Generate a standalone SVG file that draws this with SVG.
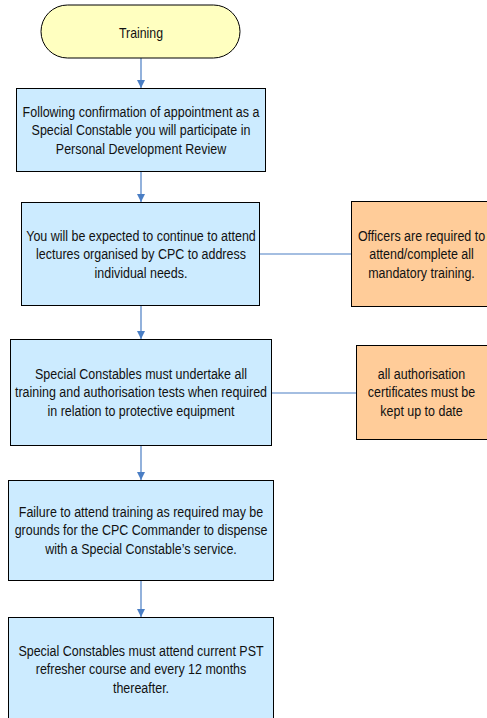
<svg xmlns="http://www.w3.org/2000/svg" width="487" height="718" viewBox="0 0 487 718">
<style>
.t{font-family:"Liberation Sans",Arial,sans-serif;font-size:14px;fill:#111;text-anchor:middle}
.blue{fill:#CCEBFF;stroke:#000;stroke-width:1}
.org{fill:#FFCC99;stroke:#000;stroke-width:1}
.c{stroke:#4A7EC4;stroke-width:1.2;fill:none}
</style>
<defs>
<marker id="ah" viewBox="0 0 8 10" refX="8" refY="5" markerWidth="8" markerHeight="10" markerUnits="userSpaceOnUse" orient="auto">
<path d="M0,1 L8,5 L0,9 Z" fill="#4A7EC4"/>
</marker>
</defs>
<rect width="487" height="718" fill="#fff"/>
<g id="connectors">
<line class="c" x1="141" y1="58" x2="141" y2="88" marker-end="url(#ah)"/>
<line class="c" x1="141" y1="172" x2="141" y2="202" marker-end="url(#ah)"/>
<line class="c" x1="141" y1="306" x2="141" y2="339" marker-end="url(#ah)"/>
<line class="c" x1="141" y1="446" x2="141" y2="480" marker-end="url(#ah)"/>
<line class="c" x1="141" y1="581" x2="141" y2="617" marker-end="url(#ah)"/>
<line class="c" x1="260" y1="254" x2="351" y2="254"/>
<line class="c" x1="271" y1="393" x2="356" y2="393"/>
</g>
<g id="n0">
<rect x="41" y="5" width="199" height="53" rx="26.5" ry="26.5" fill="#FFFFC0" stroke="#000"/>
<g transform="translate(141 0) scale(0.88 1)">
<text class="t" x="0" y="38">Training</text>
</g>
</g>
<g id="n1">
<rect class="blue" x="16.5" y="88.5" width="249" height="83"/>
<g transform="translate(141 0) scale(0.89 1)">
<text class="t" x="0" y="117">Following confirmation of appointment as a</text>
<text class="t" x="0" y="135.5">Special Constable you will participate in</text>
<text class="t" x="0" y="154">Personal Development Review</text>
</g>
</g>
<g id="n2">
<rect class="blue" x="21.5" y="202.5" width="238" height="103"/>
<g transform="translate(141 0) scale(0.89 1)">
<text class="t" x="0" y="241">You will be expected to continue to attend</text>
<text class="t" x="0" y="259.5">lectures organised by CPC to address</text>
<text class="t" x="0" y="278">individual needs.</text>
</g>
</g>
<g id="n3">
<rect class="org" x="351.5" y="201.5" width="140" height="105"/>
<g transform="translate(421.5 0) scale(0.89 1)">
<text class="t" x="0" y="241">Officers are required to</text>
<text class="t" x="0" y="259.5">attend/complete all</text>
<text class="t" x="0" y="278">mandatory training.</text>
</g>
</g>
<g id="n4">
<rect class="blue" x="10.5" y="339.5" width="261" height="106"/>
<g transform="translate(141 0) scale(0.89 1)">
<text class="t" x="0" y="379">Special Constables must undertake all</text>
<text class="t" x="0" y="397.5">training and authorisation tests when required</text>
<text class="t" x="0" y="416">in relation to protective equipment</text>
</g>
</g>
<g id="n5">
<rect class="org" x="356.5" y="345.5" width="134" height="94"/>
<g transform="translate(421.5 0) scale(0.89 1)">
<text class="t" x="0" y="379">all authorisation</text>
<text class="t" x="0" y="397.5">certificates must be</text>
<text class="t" x="0" y="416">kept up to date</text>
</g>
</g>
<g id="n6">
<rect class="blue" x="8.5" y="480.5" width="265" height="100"/>
<g transform="translate(141 0) scale(0.89 1)">
<text class="t" x="0" y="517">Failure to attend training as required may be</text>
<text class="t" x="0" y="535.5">grounds for the CPC Commander to dispense</text>
<text class="t" x="0" y="554">with a Special Constable’s service.</text>
</g>
</g>
<g id="n7">
<rect class="blue" x="8.5" y="617.5" width="265" height="110"/>
<g transform="translate(141 0) scale(0.89 1)">
<text class="t" x="0" y="656">Special Constables must attend current PST</text>
<text class="t" x="0" y="674.5">refresher course and every 12 months</text>
<text class="t" x="0" y="693">thereafter.</text>
</g>
</g>
</svg>
